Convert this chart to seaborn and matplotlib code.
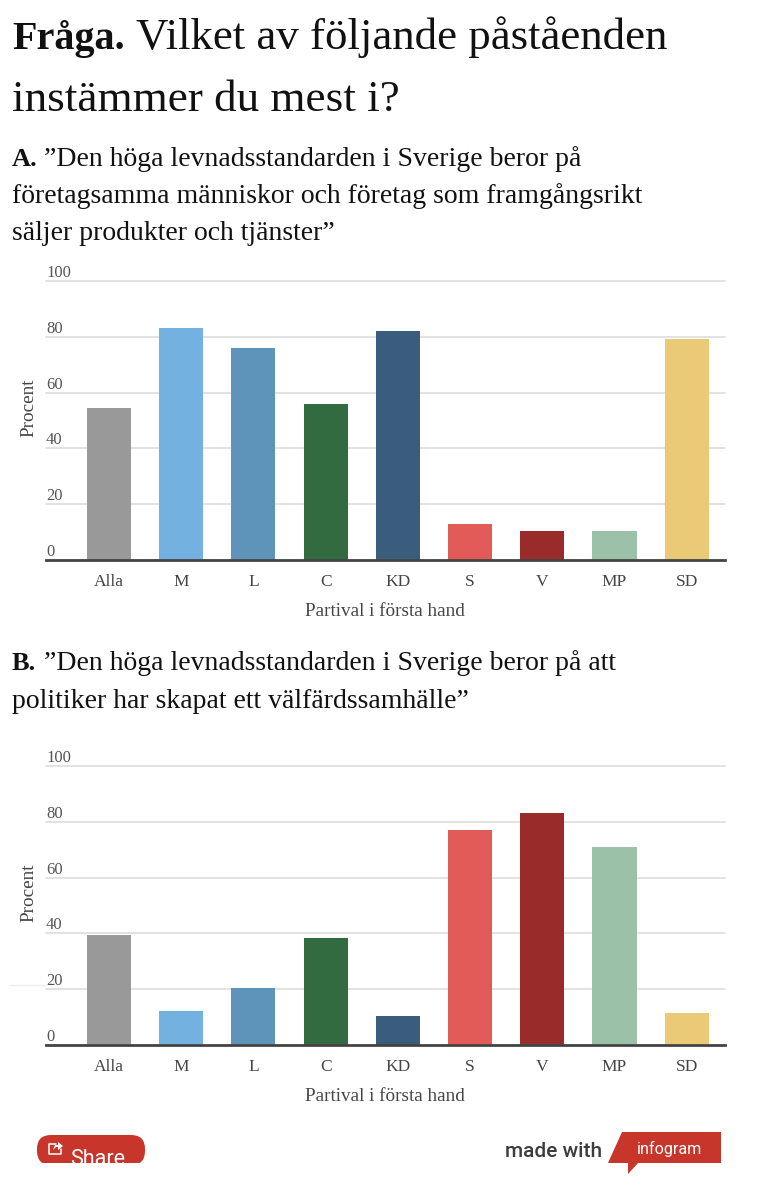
import matplotlib
matplotlib.use("Agg")
import matplotlib.pyplot as plt
from matplotlib.patches import FancyBboxPatch, Polygon
from matplotlib.transforms import Bbox, IdentityTransform
import seaborn as sns
import pandas as pd

partier = ["Alla", "M", "L", "C", "KD", "S", "V", "MP", "SD"]
varden_a = [54.5, 83, 76, 56, 82, 13, 10.3, 10.3, 79.3]
varden_b = [39.3, 12.3, 20.3, 38.3, 10.5, 77, 83, 71, 11.5]
farger = ["#999999", "#73b2e0", "#5e94ba", "#326b40", "#3b5d7d",
          "#e25b59", "#992b2a", "#9bc1a9", "#eaca76"]
y_ticks = [0, 20, 40, 60, 80, 100]

W, H = 758, 1200
SERIF = "Liberation Serif"

sns.set_theme(style="white")
plt.rcParams["font.family"] = [SERIF, "DejaVu Serif"]

fig = plt.figure(figsize=(W / 100, H / 100), dpi=100, facecolor="white")


def fx(px):
    return px / W


def fy(py):
    return 1 - py / H


def skriv(px, py, s, size, weight="normal", color="#111111", **kw):
    # position i pixlar fran overkanten
    fig.text(fx(px), fy(py), s, fontsize=size, fontweight=weight, color=color,
             va="baseline", **kw)


def rita_diagram(varden, topp, botten):
    ax = fig.add_axes([fx(46), fy(botten), fx(725 - 46), (botten - topp) / H])
    df = pd.DataFrame({"Parti": partier, "Procent": varden})
    sns.barplot(data=df, x="Parti", y="Procent", hue="Parti", palette=farger,
                order=partier, hue_order=partier, legend=False, width=0.61,
                saturation=1, linewidth=0, edgecolor="none", ax=ax, zorder=3)
    ax.set_xlim(-0.873, 8.53)
    ax.set_ylim(0, 100)
    ax.set_yticks(y_ticks)
    ax.set_yticklabels([str(v) for v in y_ticks])
    ax.yaxis.grid(True, color="#dddddd", linewidth=1.2, zorder=0)
    for linje in ax.get_ygridlines():
        linje.set_clip_on(False)
    ax.set_axisbelow(True)
    ax.patch.set_alpha(0)
    sns.despine(ax=ax, left=True)
    ax.spines["bottom"].set_color("#444444")
    ax.spines["bottom"].set_linewidth(2)
    ax.spines["bottom"].set_zorder(5)
    ax.tick_params(axis="y", length=0, pad=0, labelsize=12, labelcolor="#555555")
    ax.tick_params(axis="x", length=0, pad=10, labelsize=12.5, labelcolor="#444444")
    for lab in ax.get_yticklabels():
        lab.set_ha("left")
        lab.set_va("bottom")
    ax.set_xlabel("")
    ax.set_ylabel("")
    fig.text(fx(385), fy(botten + 56), "Partival i första hand", fontsize=13.8,
             color="#444444", ha="center", va="baseline")
    fig.text(fx(20), fy((topp + botten) / 2 - 13), "Procent", fontsize=13.8,
             color="#444444", rotation=90, ha="left", va="center")
    return ax


# --- rubriker ---
skriv(12, 49, "Fråga.", 29, weight="bold")
skriv(136, 49, "Vilket av följande påståenden", 32.3)
skriv(12, 111, "instämmer du mest i?", 32.5)

skriv(12, 166, "A.", 19, weight="bold")
skriv(44, 166, "”Den höga levnadsstandarden i Sverige beror på", 20)
skriv(12, 203, "företagsamma människor och företag som framgångsrikt", 20)
skriv(12, 240, "säljer produkter och tjänster”", 20)

skriv(12, 670, "B.", 19, weight="bold")
skriv(44, 670, "”Den höga levnadsstandarden i Sverige beror på att", 20)
skriv(12, 708, "politiker har skapat ett välfärdssamhälle”", 20)

# --- diagrammen ---
rita_diagram(varden_a, 281, 560)
rita_diagram(varden_b, 766, 1045)

# svag rest av stodlinjen till vanster i diagram B
fig.add_artist(plt.Line2D([fx(10), fx(46)], [fy(985), fy(985)], color="#eeeeee", linewidth=1))

# --- sidfot ---
ROD = "#c8352b"
# knappen ar avskuren i underkant, precis som i originalet
knapp = FancyBboxPatch((37 + 14, H - 1165 + 14), 108 - 28, 30 - 28, transform=IdentityTransform(),
                       boxstyle="round,pad=14", facecolor=ROD, edgecolor="none")
fig.add_artist(knapp)
knapp.set_clip_box(Bbox([[0, H - 1163], [W, H]]))
fig.text(fx(70), fy(1165), "Share", fontsize=15.5, color="white", family="Roboto", va="baseline")

# delningsikon
ikon_x = [fx(56), fx(49), fx(49), fx(61), fx(61)]
ikon_y = [fy(1144), fy(1144), fy(1154), fy(1154), fy(1149)]
fig.add_artist(plt.Line2D(ikon_x, ikon_y, color="white", linewidth=1.1))
fig.add_artist(Polygon([(fx(53), fy(1150)), (fx(55), fy(1145)), (fx(58), fy(1145)), (fx(58), fy(1142)),
                        (fx(63), fy(1146)), (fx(58), fy(1150)), (fx(58), fy(1147)), (fx(56), fy(1147))],
                       closed=True, transform=fig.transFigure, facecolor="white", edgecolor="none"))

fig.text(fx(505), fy(1157), "made with", fontsize=15, color="#3c3c3c", family="Roboto",
         fontweight="medium", va="baseline")
logga = Polygon([(fx(622), fy(1132)), (fx(721), fy(1132)), (fx(721), fy(1163)),
                 (fx(638), fy(1163)), (fx(628), fy(1174)), (fx(628), fy(1163)),
                 (fx(608), fy(1163))], closed=True, transform=fig.transFigure,
                facecolor=ROD, edgecolor="none")
fig.add_artist(logga)
fig.text(fx(669), fy(1154), "infogram", fontsize=11.6, color="white", family="Roboto",
         ha="center", va="baseline")

fig.savefig("out.png", dpi=100, facecolor="white")
